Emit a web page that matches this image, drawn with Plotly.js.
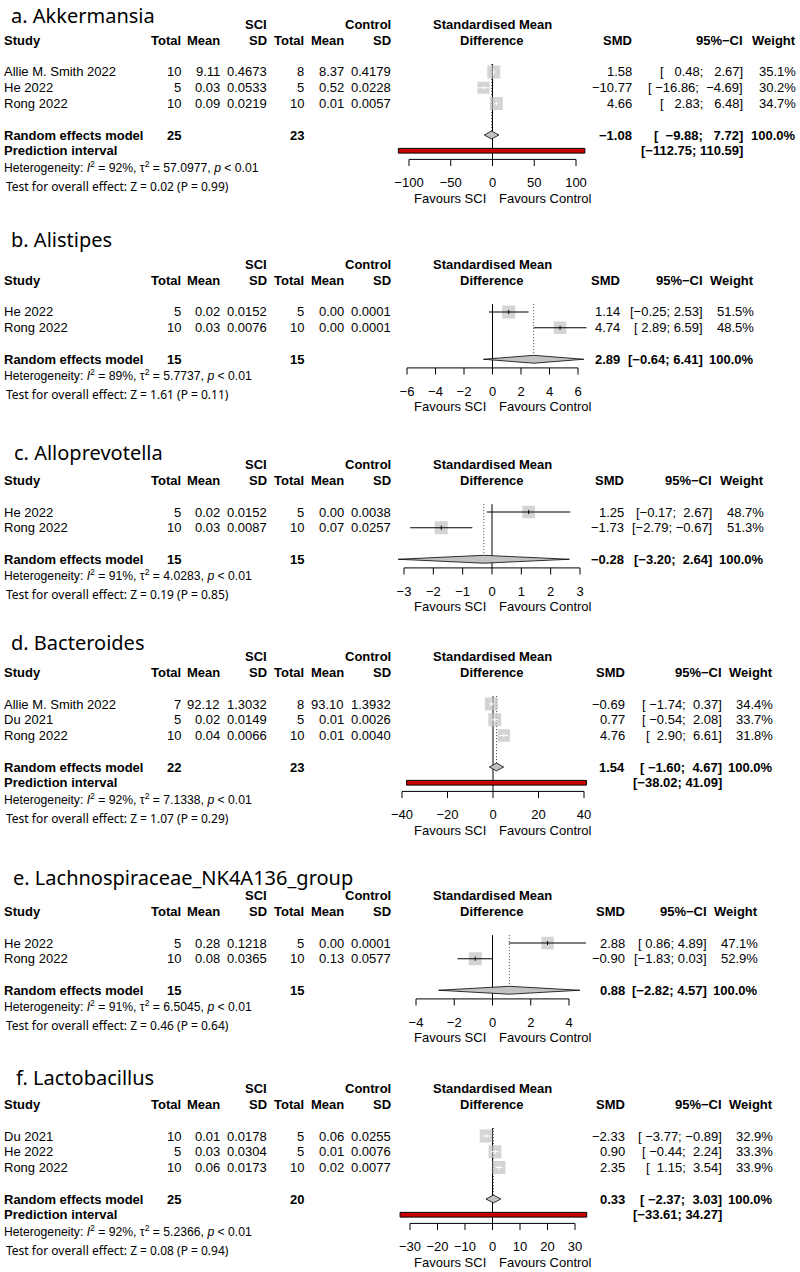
<!DOCTYPE html>
<html><head><meta charset="utf-8">
<script src="https://cdn.plot.ly/plotly-3.0.1.min.js"></script>
<style>html,body{margin:0;padding:0;background:#fff}</style>
</head><body><div id="chart" style="width:800px;height:1272px"></div>
<script>
// ================= DATA =================
const titles = ["a. Akkermansia", "b. Alistipes", "c. Alloprevotella", "d. Bacteroides", "e. Lachnospiraceae_NK4A136_group", "f. Lactobacillus"];

// a. Akkermansia
const akk_study = ["Allie M. Smith 2022", "He 2022", "Rong 2022"];
const akk_sciN = [10, 5, 10], akk_sciMean = [9.11, 0.03, 0.09], akk_sciSD = [0.4673, 0.0533, 0.0219];
const akk_ctlN = [8, 5, 10], akk_ctlMean = [8.37, 0.52, 0.01], akk_ctlSD = [0.4179, 0.0228, 0.0057];
const akk_smd = [1.58, -10.77, 4.66], akk_lo = [0.48, -16.86, 2.83], akk_hi = [2.67, -4.69, 6.48], akk_w = [35.1, 30.2, 34.7];
const akk_pooled = [-1.08, -9.88, 7.72], akk_pi = [-112.75, 110.59], akk_totals = [25, 23];
const akk_het = [92, 57.0977], akk_test = ["0.02", "0.99"], akk_ticks = [-100, -50, 0, 50, 100];

// b. Alistipes
const ali_study = ["He 2022", "Rong 2022"];
const ali_sciN = [5, 10], ali_sciMean = [0.02, 0.03], ali_sciSD = [0.0152, 0.0076];
const ali_ctlN = [5, 10], ali_ctlMean = [0.00, 0.00], ali_ctlSD = [0.0001, 0.0001];
const ali_smd = [1.14, 4.74], ali_lo = [-0.25, 2.89], ali_hi = [2.53, 6.59], ali_w = [51.5, 48.5];
const ali_pooled = [2.89, -0.64, 6.41], ali_pi = null, ali_totals = [15, 15];
const ali_het = [89, 5.7737], ali_test = ["1.61", "0.11"], ali_ticks = [-6, -4, -2, 0, 2, 4, 6];

// c. Alloprevotella
const allo_study = ["He 2022", "Rong 2022"];
const allo_sciN = [5, 10], allo_sciMean = [0.02, 0.03], allo_sciSD = [0.0152, 0.0087];
const allo_ctlN = [5, 10], allo_ctlMean = [0.00, 0.07], allo_ctlSD = [0.0038, 0.0257];
const allo_smd = [1.25, -1.73], allo_lo = [-0.17, -2.79], allo_hi = [2.67, -0.67], allo_w = [48.7, 51.3];
const allo_pooled = [-0.28, -3.20, 2.64], allo_pi = null, allo_totals = [15, 15];
const allo_het = [91, 4.0283], allo_test = ["0.19", "0.85"], allo_ticks = [-3, -2, -1, 0, 1, 2, 3];

// d. Bacteroides
const bac_study = ["Allie M. Smith 2022", "Du 2021", "Rong 2022"];
const bac_sciN = [7, 5, 10], bac_sciMean = [92.12, 0.02, 0.04], bac_sciSD = [1.3032, 0.0149, 0.0066];
const bac_ctlN = [8, 5, 10], bac_ctlMean = [93.10, 0.01, 0.01], bac_ctlSD = [1.3932, 0.0026, 0.0040];
const bac_smd = [-0.69, 0.77, 4.76], bac_lo = [-1.74, -0.54, 2.90], bac_hi = [0.37, 2.08, 6.61], bac_w = [34.4, 33.7, 31.8];
const bac_pooled = [1.54, -1.60, 4.67], bac_pi = [-38.02, 41.09], bac_totals = [22, 23];
const bac_het = [92, 7.1338], bac_test = ["1.07", "0.29"], bac_ticks = [-40, -20, 0, 20, 40];

// e. Lachnospiraceae_NK4A136_group
const lac_study = ["He 2022", "Rong 2022"];
const lac_sciN = [5, 10], lac_sciMean = [0.28, 0.08], lac_sciSD = [0.1218, 0.0365];
const lac_ctlN = [5, 10], lac_ctlMean = [0.00, 0.13], lac_ctlSD = [0.0001, 0.0577];
const lac_smd = [2.88, -0.90], lac_lo = [0.86, -1.83], lac_hi = [4.89, 0.03], lac_w = [47.1, 52.9];
const lac_pooled = [0.88, -2.82, 4.57], lac_pi = null, lac_totals = [15, 15];
const lac_het = [91, 6.5045], lac_test = ["0.46", "0.64"], lac_ticks = [-4, -2, 0, 2, 4];

// f. Lactobacillus
const lacto_study = ["Du 2021", "He 2022", "Rong 2022"];
const lacto_sciN = [10, 5, 10], lacto_sciMean = [0.01, 0.03, 0.06], lacto_sciSD = [0.0178, 0.0304, 0.0173];
const lacto_ctlN = [5, 5, 10], lacto_ctlMean = [0.06, 0.01, 0.02], lacto_ctlSD = [0.0255, 0.0076, 0.0077];
const lacto_smd = [-2.33, 0.90, 2.35], lacto_lo = [-3.77, -0.44, 1.15], lacto_hi = [-0.89, 2.24, 3.54], lacto_w = [32.9, 33.3, 33.9];
const lacto_pooled = [0.33, -2.37, 3.03], lacto_pi = [-33.61, 34.27], lacto_totals = [25, 20];
const lacto_het = [92, 5.2366], lacto_test = ["0.08", "0.94"], lacto_ticks = [-30, -20, -10, 0, 10, 20, 30];

// ================= ASSEMBLY =================
function mk(study, sciN, sciMean, sciSD, ctlN, ctlMean, ctlSD, smd, lo, hi, w, pooled, pi, totals, het, test, ticks) {
  return {study, sciN, sciMean, sciSD, ctlN, ctlMean, ctlSD, smd, lo, hi, w, pooled, pi, totals, het, test, ticks};
}
const panels = [
  mk(akk_study, akk_sciN, akk_sciMean, akk_sciSD, akk_ctlN, akk_ctlMean, akk_ctlSD, akk_smd, akk_lo, akk_hi, akk_w, akk_pooled, akk_pi, akk_totals, akk_het, akk_test, akk_ticks),
  mk(ali_study, ali_sciN, ali_sciMean, ali_sciSD, ali_ctlN, ali_ctlMean, ali_ctlSD, ali_smd, ali_lo, ali_hi, ali_w, ali_pooled, ali_pi, ali_totals, ali_het, ali_test, ali_ticks),
  mk(allo_study, allo_sciN, allo_sciMean, allo_sciSD, allo_ctlN, allo_ctlMean, allo_ctlSD, allo_smd, allo_lo, allo_hi, allo_w, allo_pooled, allo_pi, allo_totals, allo_het, allo_test, allo_ticks),
  mk(bac_study, bac_sciN, bac_sciMean, bac_sciSD, bac_ctlN, bac_ctlMean, bac_ctlSD, bac_smd, bac_lo, bac_hi, bac_w, bac_pooled, bac_pi, bac_totals, bac_het, bac_test, bac_ticks),
  mk(lac_study, lac_sciN, lac_sciMean, lac_sciSD, lac_ctlN, lac_ctlMean, lac_ctlSD, lac_smd, lac_lo, lac_hi, lac_w, lac_pooled, lac_pi, lac_totals, lac_het, lac_test, lac_ticks),
  mk(lacto_study, lacto_sciN, lacto_sciMean, lacto_sciSD, lacto_ctlN, lacto_ctlMean, lacto_ctlSD, lacto_smd, lacto_lo, lacto_hi, lacto_w, lacto_pooled, lacto_pi, lacto_totals, lacto_het, lacto_test, lacto_ticks)
];

// ================= LAYOUT (pixel placement) =================
const W = 800, H = 1272, RH = 15.75;
const BODY = 'Liberation Sans, Arial, Helvetica, sans-serif';
const FS = 13;
const panelLayout = [
  {titleY: 15,   titleX: 10, row0: 72,   right: [633, 744, 797], axisPx: [409, 576]},
  {titleY: 240,  titleX: 10, row0: 312,  right: [621, 704, 755], axisPx: [407, 578]},
  {titleY: 452,  titleX: 13, row0: 512,  right: [625, 713, 765], axisPx: [404, 580]},
  {titleY: 642,  titleX: 10, row0: 704,  right: [626, 723, 774], axisPx: [402, 584]},
  {titleY: 877,  titleX: 12, row0: 943,  right: [626, 708, 759], axisPx: [416, 569]},
  {titleY: 1077, titleX: 15, row0: 1136, right: [626, 723, 774], axisPx: [410, 575]}
];
const LC = {study: 3, sciN: 182, sciMean: 221, sciSD: 268, ctlN: 305, ctlMean: 345, ctlSD: 392};
const SQ = 13, GRAY = '#c2c2c2', NB = '\u00a0';

const annotations = [];
function txt(s, x, y, anchor, opts) {
  opts = opts || {};
  annotations.push({text: s, x: x / W, y: 1 - y / H, xref: 'paper', yref: 'paper',
    xanchor: anchor, yanchor: 'middle', showarrow: false, borderpad: 0,
    font: {family: opts.family || BODY, size: opts.size || FS, color: '#000'}});
}
function fmt(v, d) { return (v < 0 ? '\u2212' : '') + Math.abs(v).toFixed(d); }
function padL(s, n) { while (s.length < n) s = NB + s; return s; }
const B = s => '<b>' + s + '</b>';

const traces = [];
const layout = {width: W, height: H, margin: {l: 0, r: 0, t: 0, b: 0}, paper_bgcolor: '#fff', plot_bgcolor: 'rgba(0,0,0,0)', showlegend: false, annotations: annotations};

panels.forEach((P, i) => {
  const L = panelLayout[i];
  const s = i === 0 ? '' : String(i + 1);
  const xa = 'x' + s, ya = 'y' + s;
  const n = P.study.length;
  const kRem = n + 1;
  const kLast = P.pi ? n + 2 : n + 1;
  const kAxis = kLast + 0.55;
  const rowY = k => L.row0 + k * RH;
  const tmin = P.ticks[0], tmax = P.ticks[P.ticks.length - 1];
  const scale = (L.axisPx[1] - L.axisPx[0]) / (tmax - tmin);
  const X0 = 385, X1 = 600;
  const xr = [tmin - (L.axisPx[0] - X0) / scale, tmax + (X1 - L.axisPx[1]) / scale];
  const yTopPx = L.row0 - RH, yBotPx = L.row0 + (kAxis + 0.5) * RH;

  layout['xaxis' + s] = {domain: [X0 / W, X1 / W], range: xr, anchor: ya, showgrid: false, zeroline: false, showline: false,
    ticks: '', tickmode: 'array', tickvals: P.ticks, ticklabelstandoff: 6,
    tickfont: {family: BODY, size: FS, color: '#000'}, fixedrange: true};
  layout['yaxis' + s] = {domain: [1 - yBotPx / H, 1 - yTopPx / H], range: [kAxis + 0.5, -1], anchor: xa, visible: false, fixedrange: true};

  const base = {xaxis: xa, yaxis: ya, hoverinfo: 'skip', showlegend: false};
  const est = P.pooled[0];
  // reference line at 0
  traces.push(Object.assign({type: 'scatter', mode: 'lines', x: [0, 0], y: [-0.5, kAxis], line: {color: '#000', width: 1}}, base));
  // dotted line at pooled estimate
  traces.push(Object.assign({type: 'scatter', mode: 'lines', x: [est, est], y: [-0.5, kRem - 0.25], line: {color: '#444', width: 1, dash: '1px,2px'}}, base));
  // squares
  const wmax = Math.max.apply(null, P.w);
  const sizes = P.w.map(v => SQ * Math.sqrt(v / wmax));
  const ks = P.study.map((_, j) => j);
  traces.push(Object.assign({type: 'scatter', mode: 'markers', x: P.smd, y: ks,
    marker: {symbol: 'square', size: sizes, color: GRAY, line: {width: 0}}}, base));
  // CI lines
  const bx = [], by = [], wx = [], wy = [];
  P.smd.forEach((m, j) => {
    const inside = (P.hi[j] - P.lo[j]) * scale < sizes[j];
    const X = inside ? wx : bx, Y = inside ? wy : by;
    X.push(P.lo[j], P.hi[j], null, m, m, null);
    Y.push(j, j, null, j - 0.13, j + 0.13, null);
  });
  traces.push(Object.assign({type: 'scatter', mode: 'lines', x: bx, y: by, line: {color: '#000', width: 1}}, base));
  traces.push(Object.assign({type: 'scatter', mode: 'lines', x: wx, y: wy, line: {color: '#fff', width: 1}}, base));
  // diamond
  const dh = 0.25;
  traces.push(Object.assign({type: 'scatter', mode: 'lines', fill: 'toself', fillcolor: GRAY,
    x: [P.pooled[1], est, P.pooled[2], est, P.pooled[1]], y: [kRem, kRem - dh, kRem, kRem + dh, kRem],
    line: {color: '#000', width: 0.8}}, base));
  // prediction interval
  if (P.pi) {
    const kp = n + 2, ph = 0.15;
    traces.push(Object.assign({type: 'scatter', mode: 'lines', fill: 'toself', fillcolor: '#cc0000',
      x: [P.pi[0], P.pi[1], P.pi[1], P.pi[0], P.pi[0]], y: [kp - ph, kp - ph, kp + ph, kp + ph, kp - ph],
      line: {color: '#000', width: 1}}, base));
  }
  // axis line and ticks
  const ax = [tmin, tmax, null], ay = [kAxis, kAxis, null];
  P.ticks.forEach(t => { ax.push(t, t, null); ay.push(kAxis, kAxis + 0.42, null); });
  traces.push(Object.assign({type: 'scatter', mode: 'lines', x: ax, y: ay, line: {color: '#000', width: 1}}, base));

  // ---- texts ----
  txt(titles[i], L.titleX, L.titleY, 'left', {family: 'Noto Sans, sans-serif', size: 20});
  const h1 = rowY(-3), h2 = rowY(-2);
  txt(B('SCI'), LC.sciSD, h1, 'right');
  txt(B('Control'), LC.ctlSD, h1, 'right');
  txt(B('Study'), LC.study, h2, 'left');
  txt(B('Total'), LC.sciN, h2, 'right');
  txt(B('Mean'), LC.sciMean, h2, 'right');
  txt(B('SD'), LC.sciSD, h2, 'right');
  txt(B('Total'), LC.ctlN, h2, 'right');
  txt(B('Mean'), LC.ctlMean, h2, 'right');
  txt(B('SD'), LC.ctlSD, h2, 'right');
  txt(B('Standardised Mean'), 492, h1, 'center');
  txt(B('Difference'), 492, h2, 'center');
  txt(B('SMD'), L.right[0], h2, 'right');
  txt(B('95%\u2212CI'), L.right[1], h2, 'right');
  txt(B('Weight'), L.right[2], h2, 'right');

  // CI formatting (R meta style padding)
  const lows = P.lo.concat([P.pooled[1]]).concat(P.pi ? [P.pi[0]] : []).map(v => fmt(v, 2));
  const ups = P.hi.concat([P.pooled[2]]).concat(P.pi ? [P.pi[1]] : []).map(v => fmt(v, 2));
  const nL = Math.max.apply(null, lows.map(t => t.length));
  const nU = Math.max.apply(null, ups.map(t => t.length));
  const ci = (l, u) => '[' + padL(fmt(l, 2), nL) + ';' + NB + padL(fmt(u, 2), nU) + ']';

  P.study.forEach((st, j) => {
    const y = rowY(j);
    txt(st, LC.study, y, 'left');
    txt(String(P.sciN[j]), LC.sciN, y, 'right');
    txt(P.sciMean[j].toFixed(2), LC.sciMean, y, 'right');
    txt(P.sciSD[j].toFixed(4), LC.sciSD, y, 'right');
    txt(String(P.ctlN[j]), LC.ctlN, y, 'right');
    txt(P.ctlMean[j].toFixed(2), LC.ctlMean, y, 'right');
    txt(P.ctlSD[j].toFixed(4), LC.ctlSD, y, 'right');
    txt(fmt(P.smd[j], 2), L.right[0], y, 'right');
    txt(ci(P.lo[j], P.hi[j]), L.right[1], y, 'right');
    txt(P.w[j].toFixed(1) + '%', L.right[2], y, 'right');
  });
  const yr = rowY(kRem);
  txt(B('Random effects model'), LC.study, yr, 'left');
  txt(B(String(P.totals[0])), LC.sciN, yr, 'right');
  txt(B(String(P.totals[1])), LC.ctlN, yr, 'right');
  txt(B(fmt(est, 2)), L.right[0], yr, 'right');
  txt(B(ci(P.pooled[1], P.pooled[2])), L.right[1], yr, 'right');
  txt(B('100.0%'), L.right[2], yr, 'right');
  if (P.pi) {
    const yp = rowY(n + 2);
    txt(B('Prediction interval'), LC.study, yp, 'left');
    txt(B('[' + fmt(P.pi[0], 2) + ';' + NB + fmt(P.pi[1], 2) + ']'), L.right[1], yp, 'right');
  }
  const yh = rowY(kLast + 1);
  txt('Heterogeneity: <i>I</i><sup>2</sup> = ' + P.het[0] + '%, \u03c4<sup>2</sup> = ' + P.het[1].toFixed(4) + ', <i>p</i> &lt; 0.01', LC.study, yh, 'left', {size: 12.2});
  txt('Test for overall effect: Z = ' + P.test[0] + ' (P = ' + P.test[1] + ')', 5, yh + 19.5, 'left', {family: 'Noto Sans, sans-serif', size: 12});
  const axY = rowY(kAxis);
  txt('Favours SCI', 450, axY + 39, 'center');
  txt('Favours Control', 545, axY + 39, 'center');
});

Plotly.newPlot('chart', traces, layout, {staticPlot: true, displayModeBar: false});
</script>
</body></html>
